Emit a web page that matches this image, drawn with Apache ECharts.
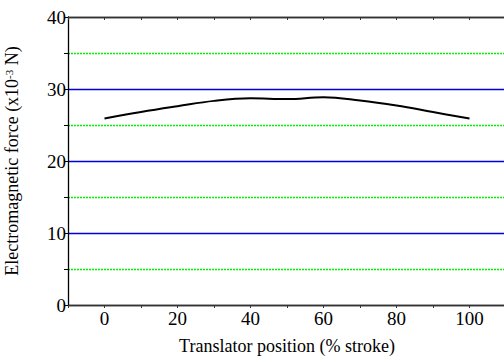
<!DOCTYPE html>
<html><head><meta charset="utf-8">
<script src="https://cdn.jsdelivr.net/npm/echarts@6/dist/echarts.min.js"></script>
<style>html,body{margin:0;padding:0;background:#fff}#c{width:504px;height:358px}</style>
</head><body><div id="c"></div>
<script>
var positions = [0, 10, 20, 30, 40, 50, 60, 70, 80, 90, 100];
var force = [25.9, 26.8, 27.6, 28.35, 28.7, 28.6, 28.85, 28.4, 27.7, 26.8, 25.9];
var xLabels = [0, 20, 40, 60, 80, 100];
var yLabels = [0, 10, 20, 30, 40];

var font = 'serif';
var chart = echarts.init(document.getElementById('c'), null, {renderer: 'svg'});
chart.setOption({
  animation: false,
  grid: {left: 68, right: -2, top: 17, bottom: 53, containLabel: false, outerBoundsMode: 'none'},
  xAxis: [{
    type: 'value', min: -10, max: 110, interval: 10,
    axisLine: {onZero: false, lineStyle: {color: '#333', width: 1.3}},
    axisTick: {show: true, length: 3, lineStyle: {color: '#333'}},
    axisLabel: {
      fontFamily: font, fontSize: 19, color: '#000', margin: 4,
      formatter: function (v) { return xLabels.indexOf(v) >= 0 ? String(v) : ''; }
    },
    splitLine: {show: false},
    name: 'Translator position (% stroke)', nameLocation: 'middle', nameGap: 32,
    nameTextStyle: {fontFamily: font, fontSize: 18, color: '#000'}
  }, {
    type: 'value', position: 'top', min: -10, max: 110, interval: 10,
    axisLine: {show: true, onZero: false, lineStyle: {color: '#333', width: 1.3}},
    axisTick: {show: true, inside: true, length: 3, lineStyle: {color: '#333'}},
    axisLabel: {show: false}, splitLine: {show: false}
  }],
  yAxis: {
    type: 'value', min: 0, max: 40, interval: 10,
    axisLine: {show: true, onZero: false, lineStyle: {color: '#000', width: 1.3}},
    axisTick: {show: true, length: 4, lineStyle: {color: '#000'}},
    minorTick: {show: true, splitNumber: 2, length: 4, lineStyle: {color: '#000'}},
    axisLabel: {
      fontFamily: font, fontSize: 19, color: '#000', margin: 2,
      formatter: function (v) { return yLabels.indexOf(v) >= 0 ? String(v) : ''; }
    },
    splitLine: {show: true, lineStyle: {color: ['#333', '#0000dd', '#0000dd', '#0000dd', '#333'], width: 1.3}},
    minorSplitLine: {show: true, lineStyle: {color: '#00ee00', type: [2, 1], width: 1.3}},
    name: '{a|Electromagnetic force (x10}{s|-3}{a| N)}', nameLocation: 'middle', nameGap: 47,
    nameTextStyle: {
      rich: {
        a: {fontFamily: font, fontSize: 18, color: '#000'},
        s: {fontFamily: font, fontSize: 11, color: '#000', verticalAlign: 'top', lineHeight: 11, padding: [0, 0, 8, 0]}
      }
    }
  },
  series: [{
    type: 'line', xAxisIndex: 0,
    data: positions.map(function (p, i) { return [p, force[i]]; }),
    smooth: 0.4, showSymbol: false,
    lineStyle: {color: '#000', width: 2}
  }]
});
</script></body></html>
